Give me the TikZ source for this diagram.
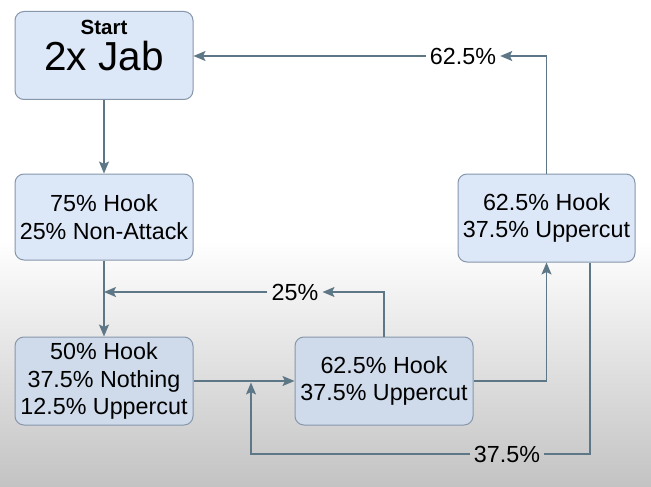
\documentclass[tikz,border=0pt]{standalone}
\usepackage{fontspec}
\setmainfont{Liberation Sans}
\usetikzlibrary{arrows.meta,positioning,calc}
\definecolor{ComboFill}{HTML}{DCE7F7}
\definecolor{ComboFillLow}{HTML}{CFDBEB}
\definecolor{ComboEdge}{HTML}{8797AB}
\definecolor{FlowGray}{HTML}{5E7787}
\definecolor{BackGray}{HTML}{C3C3C3}

\begin{document}
\begin{tikzpicture}[x=1pt,y=-1pt,>={Stealth[length=12pt,width=10pt,inset=2.5pt]},
  statebox/.style={draw=ComboEdge,line width=1pt,fill=ComboFill,rounded corners=9pt,
    minimum width=178pt,minimum height=88pt,align=center,inner sep=2pt,
    font=\fontsize{23.3}{27.5}\selectfont},
  flow/.style={draw=FlowGray,line width=1.6pt},
  pct/.style={inner sep=4pt,font=\fontsize{23.3}{27.5}\selectfont}]
  \useasboundingbox (0,0) rectangle (651,487);
  \fill[white] (0,0) rectangle (651,240);
  \shade[top color=white,bottom color=BackGray] (0,240) rectangle (651,487);

  \node[statebox,font=\fontsize{40.5}{36}\selectfont,text depth=20pt] (start) at (104,55.5)
    {{\fontsize{20.5}{20}\selectfont\bfseries Start}\\2x Jab};
  \node[statebox,minimum height=86pt] (hook75) at (104,217)
    {75\% Hook\\25\% Non-Attack};
  \node[statebox,fill=ComboFillLow] (hook50) at (104,381)
    {50\% Hook\\37.5\% Nothing\\12.5\% Uppercut};
  \node[statebox,fill=ComboFillLow] (hookmid) at (384,381)
    {62.5\% Hook\\37.5\% Uppercut};
  \node[statebox,minimum width=177pt] (hookright) at (546.5,218)
    {62.5\% Hook\\37.5\% Uppercut};

  \node[pct] (lab62) at (463,56) {62.5\%};
  \node[pct] (lab25) at (295,292) {25\%};
  \node[pct] (lab37) at (507,454) {37.5\%};
  \coordinate (back) at (590,454);
  \coordinate (merge) at (251,382.5);

  \draw[flow,->] (start) -- (hook75);
  \draw[flow,->] (hook75) -- (hook50);
  \draw[flow,->] (hook50) -- (hookmid);
  \draw[flow,->] (hookmid.east) -| (hookright.south);

  % back edges are split at their labels
  \draw[flow,->] (hookmid.north) |- (lab25.east);
  \draw[flow,->] (lab25.west) -- (lab25.west -| hook75.south);
  \draw[flow,->] (hookright.north) |- (lab62.east);
  \draw[flow,->] (lab62.west) -- (lab62.west -| start.east);
  \draw[flow] (hookright.south -| back) -- (back) -- (lab37.east);
  \draw[flow,->] (lab37.west) -| (merge);
\end{tikzpicture}
\end{document}
